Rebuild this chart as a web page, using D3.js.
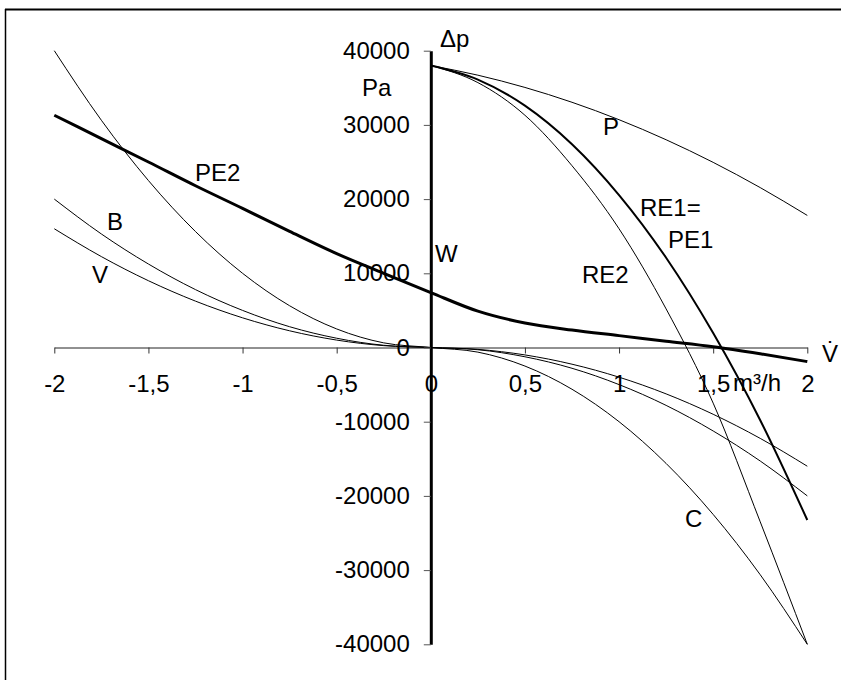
<!DOCTYPE html>
<html>
<head>
<meta charset="utf-8">
<script src="https://cdn.jsdelivr.net/npm/d3@7"></script>
<style>
  body { margin: 0; background: #fff; }
  svg { display: block; }
  text { font-family: "Liberation Sans", Arial, sans-serif; font-size: 24px; fill: #000; }
</style>
</head>
<body>
<svg id="chart" width="841" height="680"></svg>
<script>
// Volume flow (m³/h) sample points
const flowFull = [-2, -1.75, -1.5, -1.25, -1, -0.75, -0.5, -0.25, 0, 0.25, 0.5, 0.75, 1, 1.25, 1.5, 1.75, 2];
const flowPos  = [0, 0.25, 0.5, 0.75, 1, 1.25, 1.5, 1.75, 2];

// Pressure difference (Pa) for each characteristic
const seriesC   = [40000, 30625, 22500, 15625, 10000, 5625, 2500, 625, 0, -625, -2500, -5625, -10000, -15625, -22500, -30625, -40000];
const seriesB   = [20000, 15300, 11250, 7800, 5000, 2800, 1250, 300, 0, -300, -1250, -2800, -5000, -7800, -11250, -15300, -20000];
const seriesV   = [16000, 12250, 9000, 6250, 4000, 2250, 1000, 250, 0, -250, -1000, -2250, -4000, -6250, -9000, -12250, -16000];
const seriesPE2 = [31300, 28150, 25000, 21800, 18750, 15650, 12650, 10000, 7400, 4900, 3300, 2350, 1600, 850, 100, -850, -1900];
const seriesP   = [38000, 36700, 35050, 33050, 30700, 28000, 24950, 21550, 17800];
const seriesRE1 = [38000, 36100, 32600, 27400, 20550, 12100, 1950, -9800, -23250];
const seriesRE2 = [38000, 35700, 31300, 24500, 16000, 5200, -7500, -23500, -40000];

// Axis ticks
const xTicks = [-2, -1.5, -1, -0.5, 0, 0.5, 1, 1.5, 2];
const yTicks = [-40000, -30000, -20000, -10000, 0, 10000, 20000, 30000, 40000];

const svg = d3.select("#chart");

// outer frame
svg.append("line").attr("x1", 5).attr("y1", 9.5).attr("x2", 841).attr("y2", 9.5)
  .attr("stroke", "#000").attr("stroke-width", 2);
svg.append("line").attr("x1", 5.5).attr("y1", 9).attr("x2", 5.5).attr("y2", 680)
  .attr("stroke", "#000").attr("stroke-width", 1.5);

const x = d3.scaleLinear().domain([-2, 2]).range([54.3, 807.3]);
const y = d3.scaleLinear().domain([-40000, 40000]).range([644.3, 50.7]);

// plain hyphen for negatives, decimal comma
const fmtX = d => d3.format("")(d).replace("\u2212", "-").replace(".", ",");
const fmtY = d => d3.format("d")(d).replace("\u2212", "-");

// horizontal axis through Δp = 0
const gx = svg.append("g").attr("transform", `translate(0,${y(0)})`)
  .call(d3.axisBottom(x).tickValues(xTicks).tickSize(6).tickSizeOuter(0).tickFormat(fmtX));
gx.select(".domain").attr("stroke", "#222").attr("stroke-width", 1);
gx.selectAll(".tick line").attr("stroke", "#333");
gx.selectAll(".tick text").attr("y", 27).attr("font-size", 24)
  .attr("font-family", "Liberation Sans, Arial, sans-serif").attr("fill", "#000");

const line = (xs, ys) => d3.line()
  .x((d, i) => x(xs[i]))
  .y(d => y(d))
  .curve(d3.curveMonotoneX)(ys);

const curves = [
  { xs: flowFull, ys: seriesC,   w: 1 },
  { xs: flowFull, ys: seriesB,   w: 1 },
  { xs: flowFull, ys: seriesV,   w: 1 },
  { xs: flowPos,  ys: seriesP,   w: 1 },
  { xs: flowPos,  ys: seriesRE2, w: 1 },
  { xs: flowPos,  ys: seriesRE1, w: 2 },
  { xs: flowFull, ys: seriesPE2, w: 3 }
];
svg.append("g").selectAll("path").data(curves).join("path")
  .attr("d", c => line(c.xs, c.ys))
  .attr("fill", "none")
  .attr("stroke", "#000")
  .attr("stroke-width", c => c.w)
  .attr("stroke-linejoin", "round");

// vertical axis at V = 0 (heavy line W)
const gy = svg.append("g").attr("transform", `translate(${x(0)},0)`)
  .call(d3.axisLeft(y).tickValues(yTicks).tickSize(7).tickSizeOuter(0).tickFormat(fmtY));
gy.select(".domain").attr("stroke", "#000").attr("stroke-width", 3);
gy.selectAll(".tick line").attr("stroke", "#555");
gy.selectAll(".tick text").attr("x", -21).attr("font-size", 24)
  .attr("font-family", "Liberation Sans, Arial, sans-serif").attr("fill", "#000");

// curve names and unit labels
const labels = [
  { t: "Δp",   x: 440, y: 47 },
  { t: "Pa",   x: 362, y: 96 },
  { t: "P",    x: 603, y: 135 },
  { t: "RE1=", x: 640, y: 216 },
  { t: "PE1",  x: 668, y: 248 },
  { t: "RE2",  x: 582, y: 283 },
  { t: "C",    x: 685, y: 527 },
  { t: "PE2",  x: 195, y: 181 },
  { t: "W",    x: 435, y: 262 },
  { t: "B",    x: 107, y: 230 },
  { t: "V",    x: 92,  y: 283 },
  { t: "m³/h", x: 733, y: 391 },
  { t: "V\u0307", x: 822, y: 362 }
];
svg.append("g").selectAll("text").data(labels).join("text")
  .attr("x", d => d.x).attr("y", d => d.y).text(d => d.t);
</script>
</body>
</html>
